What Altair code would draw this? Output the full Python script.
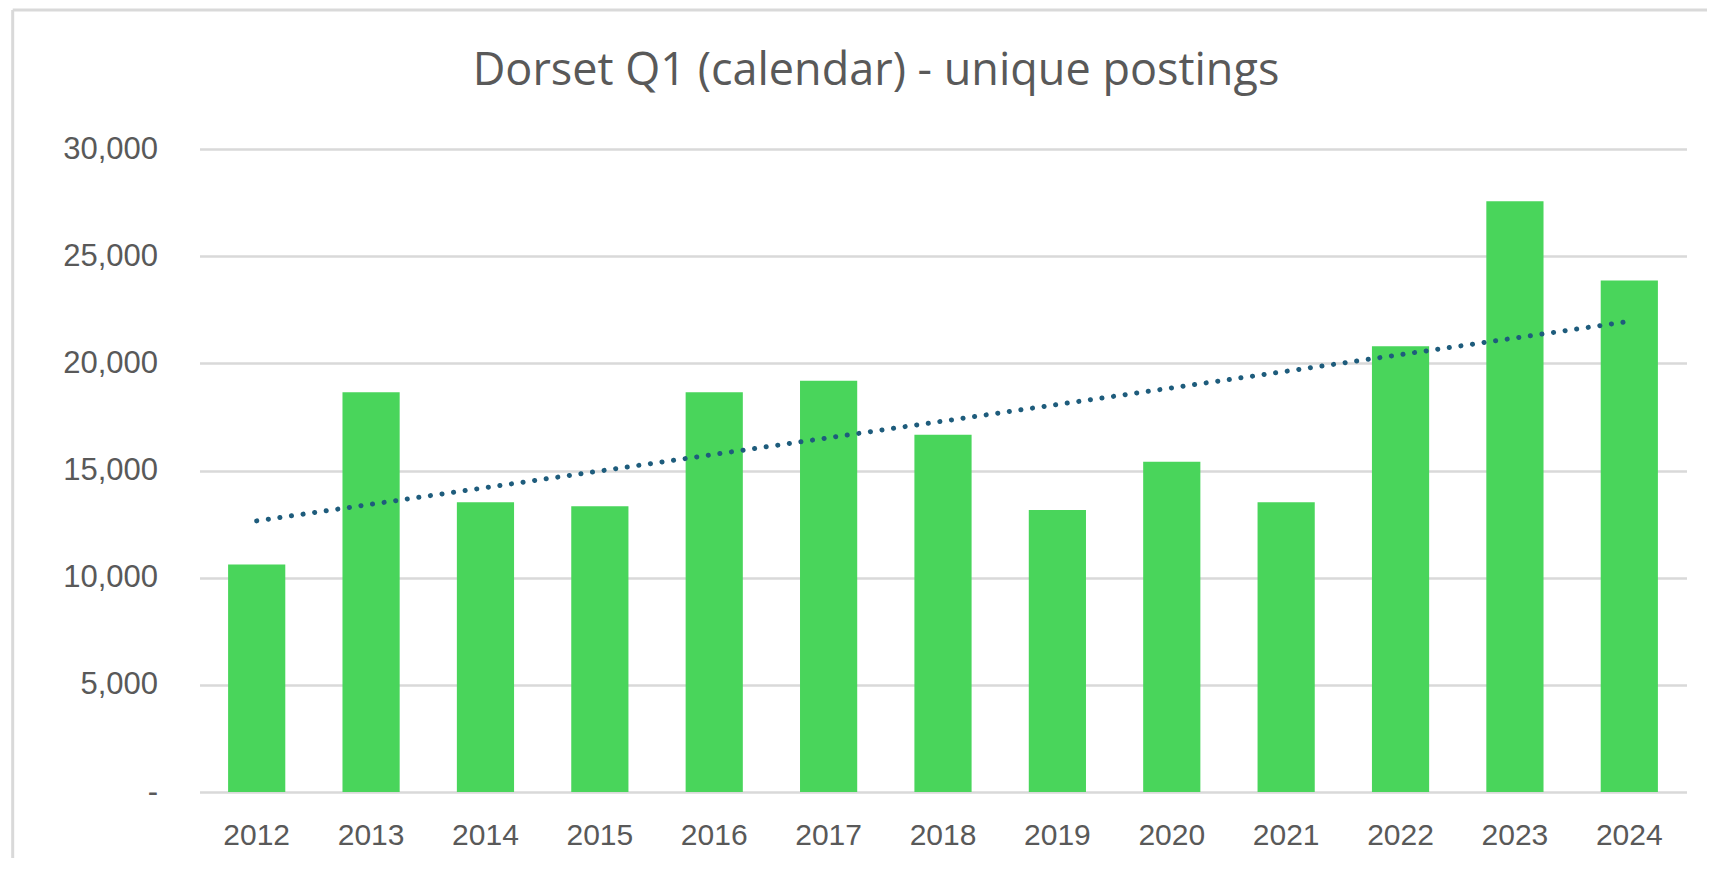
import altair as alt
import pandas as pd

# ---- data ----
years = [2012, 2013, 2014, 2015, 2016, 2017, 2018, 2019, 2020, 2021, 2022, 2023, 2024]
postings = [10620, 18650, 13520, 13330, 18650, 19190, 16670, 13160, 15410, 13520, 20800, 27560, 23860]
y_ticks = [0, 5000, 10000, 15000, 20000, 25000, 30000]
title_text = "Dorset Q1 (calendar) - unique postings"

GREEN = "#49D55B"
TREND = "#1E5C7C"
GRID = "#D9D9D9"
TEXT = "#595959"

df = pd.DataFrame({"year": years, "postings": postings})

PLOT_W = 1487
PLOT_H = 643

x_enc = alt.X(
    "year:O",
    scale=alt.Scale(paddingInner=0.5, paddingOuter=0.25),
    axis=alt.Axis(
        title=None,
        labelAngle=0,
        ticks=False,
        domain=False,
        labelFontSize=30,
        labelFont="Liberation Sans",
        labelColor=TEXT,
        labelPadding=28,
        grid=False,
    ),
)
y_enc = alt.Y(
    "postings:Q",
    scale=alt.Scale(domain=[0, 30000], nice=False),
    axis=alt.Axis(
        title=None,
        values=y_ticks,
        labelExpr="datum.value == 0 ? '-\u00a0\u00a0' : format(datum.value, ',')",
        ticks=False,
        domain=False,
        grid=True,
        gridColor=GRID,
        gridWidth=2.5,
        labelFontSize=31,
        labelFont="Liberation Sans",
        labelColor=TEXT,
        labelPadding=42,
    ),
)

base = alt.Chart(df)

bars = base.mark_bar(color=GREEN).encode(x=x_enc, y=y_enc)

trend = (
    base.transform_regression("year", "postings")
    .mark_line(color=TREND, strokeWidth=5, strokeDash=[0.1, 11.6], strokeCap="round")
    .encode(x="year:O", y="postings:Q")
)

frame_df = pd.DataFrame({"k": [0]})
left_border = alt.Chart(frame_df).mark_rule(color=GRID, strokeWidth=3).encode(
    x=alt.value(12.7 - 199.5), y=alt.value(10 - 149), y2=alt.value(PLOT_H + 200)
)
top_border = alt.Chart(frame_df).mark_rule(color=GRID, strokeWidth=3).encode(
    x=alt.value(12.7 - 199.5), x2=alt.value(PLOT_W + 40), y=alt.value(10 - 149)
)

chart = (
    alt.layer(bars, trend, left_border, top_border)
    .properties(
        width=PLOT_W,
        height=PLOT_H,
        title=alt.TitleParams(
            text=title_text,
            font="Open Sans",
            fontSize=45,
            fontWeight="normal",
            color=TEXT,
            anchor="middle",
            frame="group",
            baseline="alphabetic",
            offset=-121,
            dx=-67,
        ),
        padding={"left": 191.5, "top": 141, "right": 20, "bottom": 66},
        autosize=alt.AutoSizeParams(type="none"),
    )
    .configure(background="white")
    .configure_view(strokeWidth=0, stroke=None)
)

chart.save("out.html", embed_options={"renderer": "svg", "actions": False})
